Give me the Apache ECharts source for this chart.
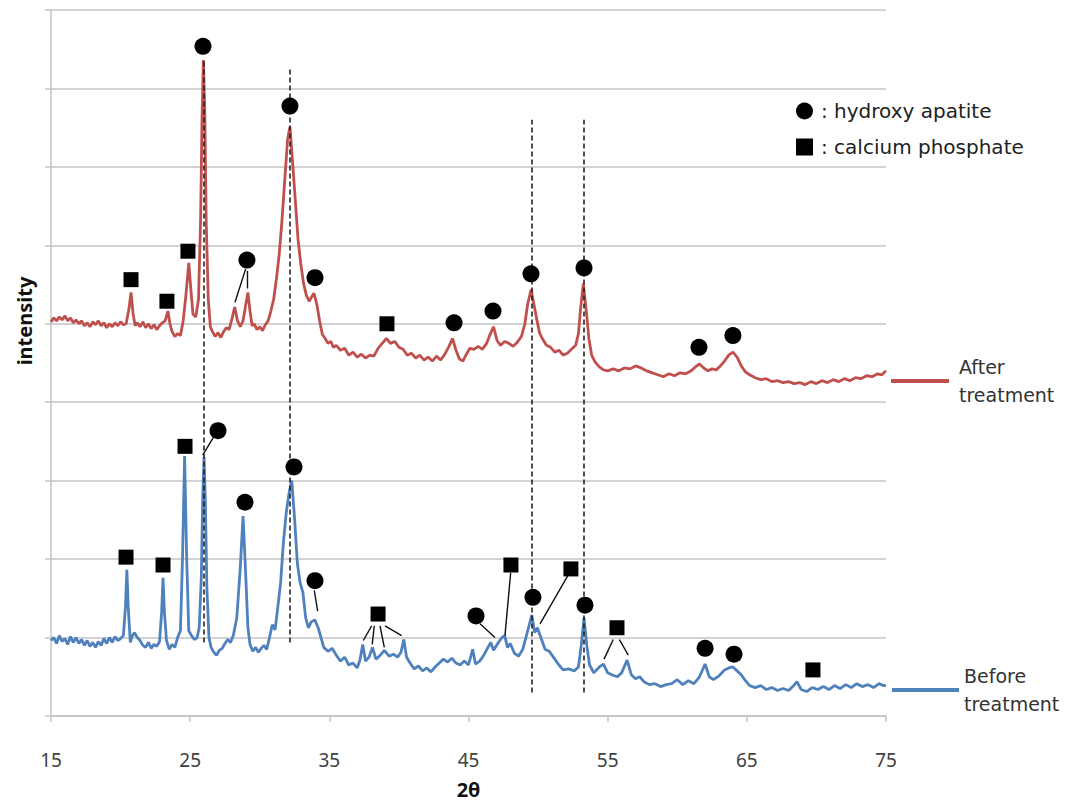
<!DOCTYPE html>
<html>
<head>
<meta charset="utf-8">
<script src="https://cdn.jsdelivr.net/npm/echarts@6/dist/echarts.min.js"></script>
<style>
html,body{margin:0;padding:0;background:#fff;}
#chart{width:1066px;height:804px;}
</style>
</head>
<body>
<div id="chart"></div>
<script>
// XRD patterns: [2θ (deg), intensity (a.u.)]
const afterTreatment = [
[15.0,402],[15.2,406],[15.4,403],[15.6,407],[15.8,404],[16.0,408],[16.2,403],[16.4,406],[16.6,401],[16.8,404],
[17.0,400],[17.2,403],[17.4,398],[17.6,401],[17.8,397],[18.0,402],[18.2,399],[18.4,403],[18.6,398],[18.8,401],
[19.0,396],[19.2,400],[19.4,397],[19.6,401],[19.8,398],[20.0,402],[20.2,399],[20.4,400],[20.6,415],[20.75,432],
[20.9,410],[21.05,398],[21.2,401],[21.4,397],[21.6,402],[21.8,396],[22.0,400],[22.2,395],[22.4,399],[22.6,394],
[22.8,398],[23.0,401],[23.2,403],[23.4,413],[23.55,400],[23.7,392],[23.9,387],[24.1,390],[24.3,388],[24.5,403],
[24.7,430],[24.9,462],[25.05,435],[25.2,410],[25.4,407],[25.6,425],[25.75,506],[25.85,608],[25.95,669],[26.05,618],
[26.15,506],[26.3,425],[26.45,397],[26.6,392],[26.8,387],[27.0,391],[27.2,386],[27.4,392],[27.6,396],[27.8,394],
[28.0,405],[28.2,417],[28.4,403],[28.6,397],[28.8,403],[29.0,420],[29.15,432],[29.3,413],[29.45,398],[29.6,400],
[29.8,394],[30.0,397],[30.2,393],[30.4,399],[30.6,403],[30.8,413],[31.0,425],[31.2,446],[31.4,471],[31.6,506],
[31.8,547],[32.0,588],[32.17,601],[32.35,567],[32.55,527],[32.75,486],[32.95,461],[33.15,441],[33.35,429],[33.55,423],
[33.75,428],[33.9,431],[34.1,420],[34.3,403],[34.5,389],[34.7,385],[34.9,380],[35.1,382],[35.3,376],[35.5,378],
[35.8,373],[36.1,375],[36.4,368],[36.7,371],[37.0,366],[37.3,369],[37.6,365],[37.9,368],[38.2,367],[38.5,375],
[38.8,380],[39.1,385],[39.4,380],[39.7,382],[40.0,376],[40.3,374],[40.6,368],[40.9,370],[41.2,365],[41.5,368],
[41.8,363],[42.1,366],[42.4,362],[42.7,367],[43.0,363],[43.3,369],[43.6,377],[43.85,385],[44.1,373],[44.35,364],
[44.6,362],[44.85,369],[45.1,375],[45.4,374],[45.7,377],[46.0,374],[46.3,380],[46.55,389],[46.8,397],[47.05,383],
[47.3,378],[47.6,382],[47.9,380],[48.2,377],[48.5,381],[48.8,387],[49.05,400],[49.25,420],[49.5,435],[49.7,420],
[49.9,405],[50.1,391],[50.3,385],[50.6,378],[50.9,376],[51.2,371],[51.5,373],[51.8,368],[52.1,370],[52.4,374],
[52.7,378],[52.9,390],[53.05,415],[53.25,441],[53.45,415],[53.65,385],[53.85,368],[54.1,361],[54.4,356],[54.7,353],
[55.0,352],[55.4,354],[55.8,352],[56.2,355],[56.6,354],[57.0,357],[57.4,355],[57.8,352],[58.2,350],[58.6,348],
[59.0,346],[59.4,349],[59.8,347],[60.2,350],[60.6,349],[61.0,352],[61.3,356],[61.6,359],[61.9,355],[62.2,352],
[62.5,354],[62.8,353],[63.1,357],[63.4,362],[63.7,368],[64.0,371],[64.3,366],[64.6,357],[64.9,351],[65.2,348],
[65.6,345],[66.0,343],[66.4,344],[66.8,341],[67.2,342],[67.6,340],[68.0,341],[68.4,339],[68.8,340],[69.2,338],
[69.6,341],[70.0,339],[70.4,342],[70.8,340],[71.2,343],[71.6,341],[72.0,344],[72.4,342],[72.8,345],[73.2,344],
[73.6,347],[74.0,346],[74.4,349],[74.7,348],[75.0,352]
];

const beforeTreatment = [
[15.0,77],[15.2,80],[15.4,74],[15.6,82],[15.8,76],[16.0,79],[16.2,73],[16.4,81],[16.6,75],[16.8,80],
[17.0,74],[17.2,78],[17.4,72],[17.6,77],[17.8,71],[18.0,75],[18.2,70],[18.4,76],[18.6,72],[18.8,79],
[19.0,74],[19.2,80],[19.4,75],[19.6,81],[19.8,77],[20.0,79],[20.2,82],[20.35,111],[20.45,149],[20.55,111],
[20.7,75],[20.85,82],[21.0,85],[21.2,80],[21.4,77],[21.6,72],[21.8,70],[22.0,75],[22.2,69],[22.4,73],
[22.6,71],[22.8,76],[22.95,106],[23.05,141],[23.15,106],[23.3,77],[23.5,68],[23.7,73],[23.9,70],[24.1,80],
[24.3,87],[24.45,161],[24.6,265],[24.75,161],[24.9,87],[25.1,82],[25.3,78],[25.5,80],[25.65,90],[25.8,141],
[25.9,222],[26.0,264],[26.1,212],[26.2,131],[26.35,80],[26.5,70],[26.7,65],[26.9,62],[27.1,67],[27.3,69],
[27.5,74],[27.7,78],[27.9,75],[28.1,82],[28.35,100],[28.6,151],[28.8,204],[29.0,141],[29.15,90],[29.3,73],
[29.5,66],[29.7,70],[29.9,65],[30.1,69],[30.3,72],[30.5,68],[30.7,80],[30.9,93],[31.1,88],[31.3,111],
[31.5,136],[31.7,177],[31.9,207],[32.1,227],[32.3,240],[32.5,202],[32.7,156],[32.9,136],[33.1,126],[33.3,100],
[33.5,90],[33.7,96],[33.95,98],[34.2,90],[34.4,80],[34.6,70],[34.9,66],[35.2,69],[35.5,62],[35.8,56],
[36.1,60],[36.4,52],[36.7,54],[37.0,49],[37.2,57],[37.4,73],[37.6,56],[37.85,60],[38.1,70],[38.35,58],
[38.6,61],[38.95,67],[39.3,61],[39.6,63],[39.9,60],[40.15,65],[40.35,78],[40.55,60],[40.8,54],[41.1,48],
[41.4,51],[41.7,46],[42.0,49],[42.3,45],[42.6,50],[42.9,54],[43.2,58],[43.5,55],[43.8,59],[44.1,54],
[44.4,52],[44.7,56],[45.0,52],[45.3,68],[45.5,53],[45.8,56],[46.1,62],[46.4,70],[46.6,75],[46.8,67],
[47.1,74],[47.4,80],[47.6,82],[47.8,70],[48.0,74],[48.3,64],[48.6,61],[48.9,68],[49.2,84],[49.55,103],
[49.75,85],[49.95,90],[50.2,80],[50.5,68],[50.8,66],[51.1,60],[51.5,52],[51.8,47],[52.2,48],[52.6,46],
[52.9,50],[53.1,72],[53.3,100],[53.5,72],[53.7,52],[54.0,44],[54.4,50],[54.7,53],[55.0,44],[55.3,42],
[55.7,40],[56.0,44],[56.4,57],[56.7,42],[57.0,38],[57.3,40],[57.6,35],[58.0,32],[58.4,33],[58.8,30],
[59.2,32],[59.6,33],[60.0,37],[60.4,32],[60.8,36],[61.2,33],[61.6,40],[62.0,53],[62.3,40],[62.6,37],
[63.0,41],[63.4,47],[63.7,49],[64.0,50],[64.3,46],[64.6,42],[64.9,36],[65.2,31],[65.6,29],[66.0,31],
[66.4,27],[66.8,29],[67.2,26],[67.6,28],[68.0,26],[68.3,30],[68.6,35],[68.9,27],[69.3,25],[69.7,29],
[70.1,27],[70.5,30],[70.9,27],[71.3,31],[71.7,28],[72.1,32],[72.5,29],[72.9,33],[73.3,30],[73.7,32],
[74.1,29],[74.5,33],[74.8,31],[75.0,31]
];

// Phase markers: [2θ, marker height]
const apatitePeaks = [
[25.92,683],[29.08,465],[32.17,622],[33.97,447],[43.96,401],[46.76,413],[49.49,451],[53.3,457],[61.56,376],[64.0,388],
[27.0,291],[28.94,218],[32.46,254],[33.97,138],[45.54,102],[49.63,121],[53.37,113],[62.0,69],[64.08,63]
];
const phosphatePeaks = [
[20.75,445],[23.33,423],[24.84,474],[39.14,400],
[20.39,162],[23.05,154],[24.63,275],[38.5,104],[48.05,154],[52.36,150],[55.67,90],[69.75,47]
];

// Leader lines from markers to their peaks
const leaderLines = [
[[28.99,456],[28.22,422]],[[29.13,454],[29.13,436]],
[[26.66,284],[25.9,266]],
[[33.92,128],[34.16,107]],
[[38.04,92],[37.44,77]],[[38.23,92],[38.08,73]],[[38.64,92],[38.95,70]],[[39.0,92],[40.2,82]],
[[45.83,94],[46.9,80]],
[[48.03,146],[47.62,82]],
[[52.17,144],[50.14,94]],
[[55.4,78],[54.74,58]],[[55.84,78],[56.48,62]]
];

// Dashed reference lines: [2θ, bottom, top]
const guideLines = [[25.99,75,669],[32.17,75,661],[49.51,24,608],[53.25,24,608]];

const chart = echarts.init(document.getElementById('chart'), null, {renderer: 'svg'});
const FONT = '"Noto Sans", "DejaVu Sans", sans-serif';
const LEGEND_FONT = '"DejaVu Sans", "Noto Sans", sans-serif';
const GRID_COLOR = '#c4c4c4';

chart.setOption({
  animation: false,
  backgroundColor: '#ffffff',
  grid: {left: 51, right: 180, top: 10, bottom: 85, containLabel: false},
  xAxis: {
    type: 'value', min: 15, max: 75, interval: 10,
    name: '2θ', nameLocation: 'middle', nameGap: 63,
    nameTextStyle: {fontFamily: FONT, fontSize: 20, fontWeight: 'bold', color: '#111'},
    axisLine: {show: true, lineStyle: {color: GRID_COLOR, width: 1.5}},
    axisTick: {show: true, length: 6, lineStyle: {color: GRID_COLOR, width: 1.5}},
    axisLabel: {margin: 34, fontFamily: FONT, fontSize: 19, color: '#404040'},
    splitLine: {show: false}
  },
  yAxis: {
    type: 'value', min: 0, max: 720, interval: 80,
    axisLine: {show: true, lineStyle: {color: GRID_COLOR, width: 1.5}},
    axisTick: {show: true, length: 6, lineStyle: {color: GRID_COLOR, width: 1.5}},
    axisLabel: {show: false},
    splitLine: {show: true, lineStyle: {color: GRID_COLOR, width: 1.5}}
  },
  legend: [
    {
      data: [{name: 'hydroxy apatite', icon: 'circle'}, {name: 'calcium phosphate', icon: 'rect'}],
      orient: 'vertical', left: 796, top: 101, padding: 0, itemWidth: 17, itemHeight: 17, itemGap: 16,
      formatter: ': {name}', selectedMode: false,
      itemStyle: {opacity: 1},
      textStyle: {fontFamily: LEGEND_FONT, fontSize: 20, lineHeight: 20, color: '#222', padding: [0, 0, 0, 3]}
    },
    {
      data: [{name: 'After treatment', icon: 'rect'}],
      left: 891, top: 353, padding: 0, itemWidth: 58, itemHeight: 4, selectedMode: false,
      formatter: n => n.replace(' ', '\n'),
      textStyle: {fontFamily: LEGEND_FONT, fontSize: 19, lineHeight: 28, color: '#333', padding: [0, 0, 0, 5]}
    },
    {
      data: [{name: 'Before treatment', icon: 'rect'}],
      left: 892, top: 662, padding: 0, itemWidth: 67, itemHeight: 4, selectedMode: false,
      formatter: n => n.replace(' ', '\n'),
      textStyle: {fontFamily: LEGEND_FONT, fontSize: 19, lineHeight: 28, color: '#333', padding: [0, 0, 0, 0]}
    }
  ],
  graphic: [{
    type: 'text', x: 24, y: 321, rotation: Math.PI / 2,
    style: {text: 'intensity', fontFamily: FONT, fontSize: 20, fontWeight: 'bold', fill: '#111',
            align: 'center', verticalAlign: 'middle'}
  }],
  series: [
    {
      name: 'After treatment', type: 'line', data: afterTreatment, showSymbol: false,
      color: '#c0504d', itemStyle: {color: '#c0504d'},
      lineStyle: {color: '#c0504d', width: 2.8}, z: 2
    },
    {
      name: 'Before treatment', type: 'line', data: beforeTreatment, showSymbol: false,
      color: '#4f81bd', itemStyle: {color: '#4f81bd'},
      lineStyle: {color: '#4f81bd', width: 2.8}, z: 2
    },
    {
      name: 'guides', type: 'lines', coordinateSystem: 'cartesian2d', silent: true, z: 3,
      data: guideLines.map(g => ({coords: [[g[0], g[1]], [g[0], g[2]]]})),
      lineStyle: {color: '#222', width: 1.6, type: [5, 3], opacity: 1}
    },
    {
      name: 'leaders', type: 'lines', coordinateSystem: 'cartesian2d', silent: true, z: 3,
      data: leaderLines.map(c => ({coords: c})),
      lineStyle: {color: '#111', width: 1.4, opacity: 1}
    },
    {
      name: 'hydroxy apatite', type: 'scatter', data: apatitePeaks,
      symbol: 'circle', symbolSize: 17, itemStyle: {color: '#000', opacity: 1}, z: 4
    },
    {
      name: 'calcium phosphate', type: 'scatter', data: phosphatePeaks,
      symbol: 'rect', symbolSize: 15, itemStyle: {color: '#000', opacity: 1}, z: 4
    }
  ]
});
</script>
</body>
</html>
